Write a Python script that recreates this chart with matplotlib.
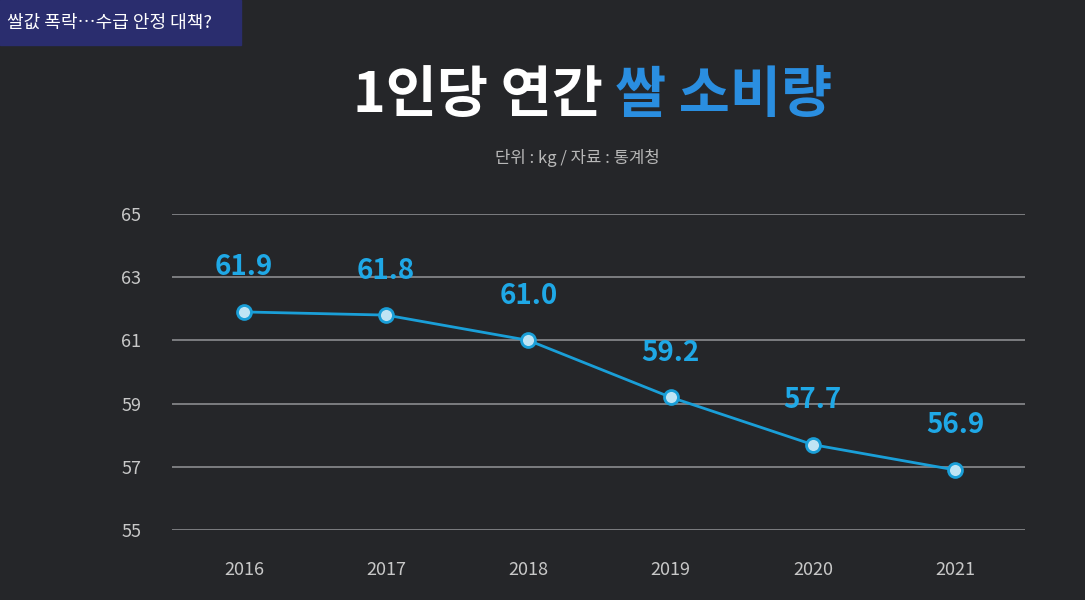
import matplotlib
matplotlib.use("Agg")
import matplotlib.pyplot as plt

years = [2016, 2017, 2018, 2019, 2020, 2021]
values = [61.9, 61.8, 61.0, 59.2, 57.7, 56.9]
yticks = [55, 57, 59, 61, 63, 65]

plt.rcParams["font.family"] = ["Noto Sans CJK JP", "Noto Sans CJK KR", "Noto Sans CJK SC",
                               "Noto Sans CJK TC", "DejaVu Sans"]
fig = plt.figure(figsize=(10.85, 6), dpi=100, facecolor="#252629")
ax = fig.add_axes([0.1585, 0.1167, 0.786, 0.5267])
ax.set_facecolor("#252629")
ax.set_xlim(2015.494, 2021.49)
ax.set_ylim(55, 65)
ax.set_yticks(yticks)
ax.set_xticks(years)
ax.grid(axis="y", color="#8a8b8f", lw=1.2)
ax.set_axisbelow(True)
for s in ax.spines.values():
    s.set_visible(False)
ax.tick_params(length=0, colors="#c8c8c8", labelsize=13)
ax.tick_params(axis="y", pad=22)
ax.tick_params(axis="x", pad=22)
ax.plot(years, values, color="#1a9fd8", lw=2, marker="o", ms=10,
        mfc="#bfe4f4", mec="#1a9fd8", mew=2, zorder=3)
for x, v in zip(years, values):
    ax.annotate(f"{v:.1f}", (x, v), xytext=(0, 22), textcoords="offset points",
                ha="center", va="bottom", color="#1fa8e6", fontsize=20,
                fontweight="bold")

fig.patches.append(plt.Rectangle((0, 0.925), 0.222, 0.075, transform=fig.transFigure,
                                 color="#2a2d6e", zorder=0))
fig.text(0.006, 0.962, "쌀값 폭락…수급 안정 대책?", color="white", fontsize=13,
         va="center", ha="left")
fig.text(0.567, 0.84, "1인당 연간 ", color="white", fontsize=40,
         fontweight="bold", ha="right", va="center")
fig.text(0.567, 0.84, "쌀 소비량", color="#2a8ee0", fontsize=40,
         fontweight="bold", ha="left", va="center")
fig.text(0.532, 0.737, "단위 : kg / 자료 : 통계청", color="#b8b8b8", fontsize=12,
         ha="center", va="center")
fig.savefig("out.png", dpi=100, facecolor=fig.get_facecolor())
